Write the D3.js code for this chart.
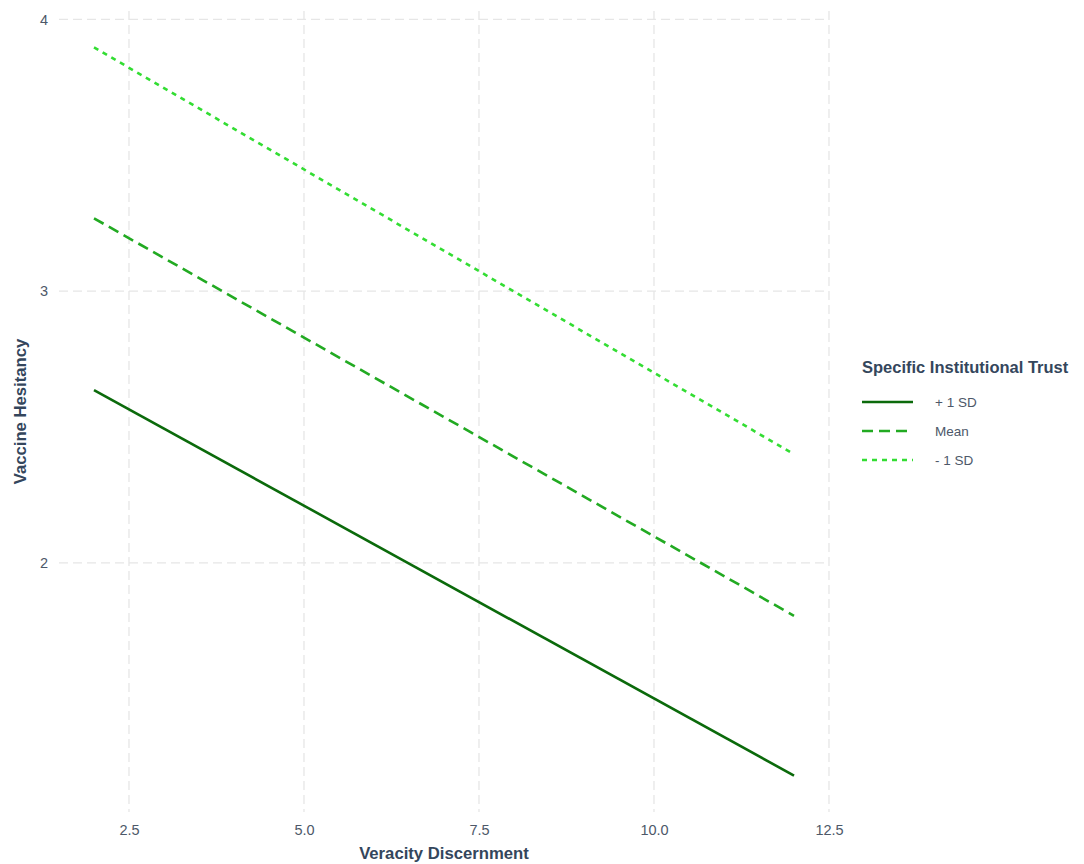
<!DOCTYPE html>
<html>
<head>
<meta charset="utf-8">
<script src="https://cdn.jsdelivr.net/npm/d3@7"></script>
<style>
  body { margin: 0; background: #fff; }
  text { font-family: "Liberation Sans", Arial, sans-serif; }
</style>
</head>
<body>
<div id="chart"></div>
<script>
// Data: predicted hesitancy at the ends of the range
const veracity = [2, 12];
const groups = ['+ 1 SD', 'Mean', '- 1 SD'];
const plusSD = [2.636, 1.217];
const meanVals = [3.268, 1.805];
const minusSD = [3.897, 2.40];
const xTicks = [2.5, 5.0, 7.5, 10.0, 12.5];
const yTicks = [2, 3, 4];

const width = 1084, height = 864;
const margin = {top: 11, right: 255, bottom: 52, left: 59};

const series = [
    {name: groups[0], values: plusSD, color: '#0b6a0b', dash: null},
    {name: groups[1], values: meanVals, color: '#22aa22', dash: '11,6'},
    {name: groups[2], values: minusSD, color: '#33dd33', dash: '5,5'}
];

const svg = d3.select('#chart')
    .append('svg')
    .attr('width', width)
    .attr('height', height);

// scales (ggplot style 5% expansion)
const x = d3.scaleLinear()
    .domain([1.5, 12.5])
    .range([margin.left, width - margin.right]);

const y = d3.scaleLinear()
    .domain([1.083, 4.031])
    .range([height - margin.bottom, margin.top]);

// Grid lines
svg.append('g')
    .selectAll('line')
    .data(xTicks)
    .enter()
    .append('line')
    .attr('x1', d => x(d))
    .attr('x2', d => x(d))
    .attr('y1', y.range()[1])
    .attr('y2', y.range()[0])
    .attr('stroke', '#e6e6e6')
    .attr('stroke-width', 1.3)
    .attr('stroke-dasharray', '9,5');

svg.append('g')
    .selectAll('line')
    .data(yTicks)
    .enter()
    .append('line')
    .attr('x1', x.range()[0])
    .attr('x2', x.range()[1])
    .attr('y1', d => y(d))
    .attr('y2', d => y(d))
    .attr('stroke', '#e6e6e6')
    .attr('stroke-width', 1.3)
    .attr('stroke-dasharray', '9,5');

// Axes (no domain, no ticks)
svg.append('g')
    .attr('transform', `translate(0,${height - margin.bottom})`)
    .call(d3.axisBottom(x).tickValues(xTicks).tickFormat(d3.format('.1f')).tickSize(0).tickPadding(13))
    .call(g => g.select('.domain').remove())
    .call(g => g.selectAll('text').attr('font-size', '14.5px').attr('fill', '#4d5869')
        .style('font-family', '"Liberation Sans", Arial, sans-serif'));

svg.append('g')
    .attr('transform', `translate(${margin.left},0)`)
    .call(d3.axisLeft(y).tickValues(yTicks).tickFormat(d3.format('d')).tickSize(0).tickPadding(11))
    .call(g => g.select('.domain').remove())
    .call(g => g.selectAll('text').attr('font-size', '14.5px').attr('fill', '#4d5869')
        .style('font-family', '"Liberation Sans", Arial, sans-serif'));

// Axis titles
svg.append('text')
    .attr('x', (x.range()[0] + x.range()[1]) / 2)
    .attr('y', 859)
    .attr('text-anchor', 'middle')
    .attr('font-size', '16.7px')
    .attr('font-weight', 'bold')
    .attr('fill', '#34465c')
    .text('Veracity Discernment');

svg.append('text')
    .attr('transform', 'rotate(-90)')
    .attr('x', -(y.range()[0] + y.range()[1]) / 2)
    .attr('y', 26)
    .attr('text-anchor', 'middle')
    .attr('font-size', '16.7px')
    .attr('font-weight', 'bold')
    .attr('fill', '#34465c')
    .text('Vaccine Hesitancy');

// Lines
const line = d3.line()
    .x((d, i) => x(veracity[i]))
    .y(d => y(d));

series.forEach(s => {
    svg.append('path')
        .datum(s.values)
        .attr('fill', 'none')
        .attr('stroke', s.color)
        .attr('stroke-width', 2.6)
        .attr('stroke-dasharray', s.dash)
        .attr('d', line);
});

// Legend
const legend = svg.append('g')
    .attr('transform', 'translate(862,367)');

legend.append('text')
    .attr('x', 0)
    .attr('y', 6)
    .attr('font-size', '16.5px')
    .attr('font-weight', 'bold')
    .attr('fill', '#34465c')
    .text('Specific Institutional Trust');

series.forEach((s, i) => {
    const item = legend.append('g')
        .attr('transform', `translate(0,${35 + i * 29})`);
    item.append('line')
        .attr('x1', 0)
        .attr('x2', 51)
        .attr('stroke', s.color)
        .attr('stroke-width', 2.6)
        .attr('stroke-dasharray', s.dash);
    item.append('text')
        .attr('x', 73)
        .attr('y', 5)
        .attr('font-size', '13.5px')
        .attr('fill', '#4d5869')
        .text(s.name);
});
</script>
</body>
</html>
